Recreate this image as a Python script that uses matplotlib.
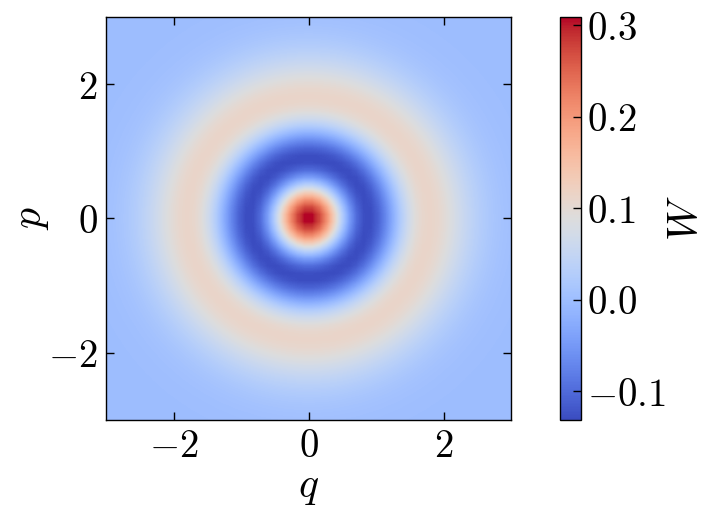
import numpy as np
import matplotlib
matplotlib.use("Agg")
import matplotlib.pyplot as plt
from matplotlib.ticker import FuncFormatter, FixedLocator

# Wigner function of Fock state |n>
fock_n = 2
q_range = (-3.0, 3.0)
p_range = (-3.0, 3.0)
grid_points = 56
axis_ticks = [-2, 0, 2]
cbar_ticks = [-0.1, 0.0, 0.1, 0.2, 0.3]

q = np.linspace(q_range[0], q_range[1], grid_points)
p = np.linspace(p_range[0], p_range[1], grid_points)
Q, P = np.meshgrid(q, p)
R2 = Q**2 + P**2
x = 2 * R2
# Laguerre L_2
L2 = 1 - 2 * x + x**2 / 2
W = ((-1) ** fock_n) / np.pi * np.exp(-R2) * L2

plt.rcParams['mathtext.fontset'] = 'cm'
plt.rcParams['font.family'] = 'serif'
plt.rcParams['font.serif'] = ['DejaVu Serif']
plt.rcParams['font.size'] = 12

fig = plt.figure(figsize=(3.6, 2.54), dpi=200)
ax = fig.add_axes([106/720, 1 - 420/508, 405/720, 403/508])
cax = fig.add_axes([560/720, 1 - 420/508, 21/720, 403/508])

h = q[1] - q[0]
im = ax.imshow(W, extent=[q[0] - h/2, q[-1] + h/2, p[0] - h/2, p[-1] + h/2],
               origin='lower', cmap='coolwarm', interpolation='bilinear', aspect='auto')
ax.set_xlim(*q_range)
ax.set_ylim(*p_range)
ax.xaxis.set_major_locator(FixedLocator(axis_ticks))
ax.yaxis.set_major_locator(FixedLocator(axis_ticks))
fmt_int = FuncFormatter(lambda v, pos: f"${v:.0f}$")
ax.xaxis.set_major_formatter(fmt_int)
ax.yaxis.set_major_formatter(fmt_int)
ax.tick_params(direction='in', top=True, right=True, length=3, width=0.5, labelsize=14, pad=3)
ax.minorticks_off()
for s in ax.spines.values():
    s.set_linewidth(0.5)
ax.set_xlabel(r'$q$', fontsize=15, labelpad=0)
ax.set_ylabel(r'$p$', fontsize=15, labelpad=-1)

cb = fig.colorbar(im, cax=cax)
cb.set_ticks(cbar_ticks)
cb.ax.yaxis.set_major_formatter(FuncFormatter(lambda v, pos: f"${v:.1f}$"))
cb.ax.tick_params(direction='in', length=3, width=0.5, labelsize=14, pad=2)
cb.ax.minorticks_off()
cb.outline.set_linewidth(0.5)
cb.set_label(r'$W$', fontsize=15, labelpad=0)

fig.savefig('out.png', dpi=200)
